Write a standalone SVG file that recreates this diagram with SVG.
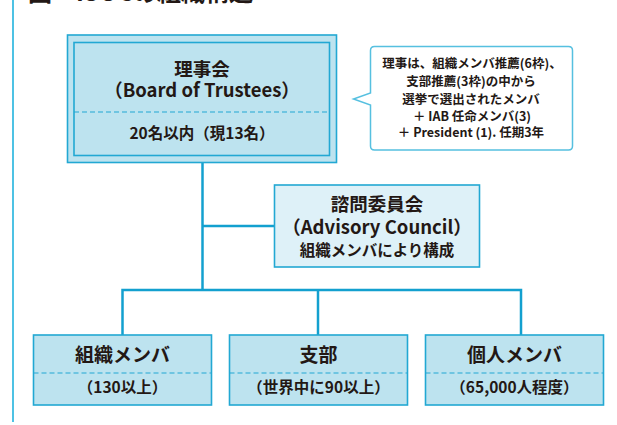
<svg xmlns="http://www.w3.org/2000/svg" width="617" height="425" viewBox="0 0 617 425">
  <style>
    text { font-family: "Noto Sans CJK JP", "Noto Sans", sans-serif; font-weight: bold; fill: #231815; text-anchor: middle; }
    .box { fill: #bde3ef; stroke: #22a8d3; stroke-width: 1.6; }
    .adv { fill: #def1f8; stroke: #22a8d3; stroke-width: 1.6; }
    .dash { stroke: #22a8d3; stroke-width: 1.2; stroke-dasharray: 5 3; fill: none; }
    .conn { stroke: #13a0cf; stroke-width: 2.5; fill: none; }
    .t-big { font-size: 18.5px; }
    .t-lab { font-size: 19px; }
    .t-mid { font-size: 15.5px; }
    .t-call { font-size: 12.5px; font-weight: 600; }
  </style>

  <!-- page frame line and cut-off title -->
  <line x1="13" y1="0" x2="13" y2="422" stroke="#4ec2e4" stroke-width="2"/>
  <text x="28" y="1" style="font-size:24px;text-anchor:start">図　ISOCの組織構造</text>

  <!-- connectors -->
  <g id="connectors">
    <polyline class="conn" points="202.5,162 202.5,290"/>
    <line class="conn" x1="202.5" y1="226" x2="275" y2="226"/>
    <polyline class="conn" points="122.5,335 122.5,290 521,290 521,335"/>
    <line class="conn" x1="318" y1="290" x2="318" y2="335"/>
  </g>

  <g id="board">
    <rect class="box" x="67.5" y="35" width="269" height="127.5"/>
    <rect class="box" x="74" y="42.5" width="255.5" height="113"/>
    <line class="dash" x1="74" y1="112" x2="329.5" y2="112"/>
    <text class="t-big" x="202" y="76">理事会</text>
    <text class="t-big" x="202" y="97">（Board of Trustees）</text>
    <text class="t-mid" x="202" y="139">20名以内（現13名）</text>
  </g>

  <g id="callout">
    <path d="M374.5,46.5 H568.5 Q572.5,46.5 572.5,50.5 V146 Q572.5,150 568.5,150 H374.5 Q370.5,150 370.5,146 V105 L353.5,99 L370.5,93 V50.5 Q370.5,46.5 374.5,46.5 Z" fill="#ffffff" stroke="#56c0e0" stroke-width="1.5"/>
    <text class="t-call" x="472" y="68">理事は、組織メンバ推薦(6枠)、</text>
    <text class="t-call" x="471" y="86">支部推薦(3枠)の中から</text>
    <text class="t-call" x="471" y="103.5">選挙で選出されたメンバ</text>
    <text class="t-call" x="472" y="121">＋ IAB 任命メンバ(3)</text>
    <text class="t-call" x="471" y="137">＋ President (1). 任期3年</text>
  </g>

  <g id="advisory">
    <rect class="adv" x="274.5" y="185" width="205" height="82"/>
    <text class="t-big" x="377" y="211">諮問委員会</text>
    <text class="t-big" x="377" y="234">（Advisory Council）</text>
    <text class="t-mid" x="377" y="256">組織メンバにより構成</text>
  </g>

  <g id="org-members">
    <rect class="box" x="33.5" y="335" width="178" height="70"/>
    <line class="dash" x1="33.5" y1="373" x2="211.5" y2="373"/>
    <text class="t-lab" x="122.5" y="362">組織メンバ</text>
    <text class="t-mid" x="122.5" y="393">（130以上）</text>
  </g>

  <g id="chapters">
    <rect class="box" x="229.5" y="335" width="178" height="70"/>
    <line class="dash" x1="229.5" y1="373" x2="407.5" y2="373"/>
    <text class="t-lab" x="318.5" y="362">支部</text>
    <text class="t-mid" x="318.5" y="393">（世界中に90以上）</text>
  </g>

  <g id="individual-members">
    <rect class="box" x="425.5" y="335" width="178" height="70"/>
    <line class="dash" x1="425.5" y1="373" x2="603.5" y2="373"/>
    <text class="t-lab" x="514.5" y="362">個人メンバ</text>
    <text class="t-mid" x="514.5" y="393">（65,000人程度）</text>
  </g>
</svg>
